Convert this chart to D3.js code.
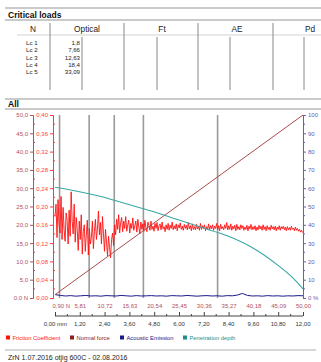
<!DOCTYPE html>
<html>
<head>
<meta charset="utf-8">
<script src="https://cdn.jsdelivr.net/npm/d3@7"></script>
<style>
  body { margin: 0; background: #fff; }
  svg { display: block; font-family: "Liberation Sans", Arial, sans-serif; }
</style>
</head>
<body>
<div id="chart"></div>
<script>
// ---- data ----
const tableColumns = ["N", "Optical", "Ft", "AE", "Pd"];
const lcLabels = ["Lc 1", "Lc 2", "Lc 3", "Lc 4", "Lc 5"];
const lcOptical = ["1,8", "7,66", "12,63", "18,4", "33,09"];
const lcPositions = [1.8, 7.66, 12.63, 18.4, 33.09];

const nTicks = [0.90, 5.81, 10.72, 15.63, 20.54, 25.45, 30.36, 35.27, 40.18, 45.09, 50.00];
const mmTicks = [0, 1.2, 2.4, 3.6, 4.8, 6.0, 7.2, 8.4, 9.6, 10.8, 12.0];
const forceTicks = [0, 5, 10, 15, 20, 25, 30, 35, 40, 45, 50];
const frictionTicks = [0, 0.04, 0.08, 0.12, 0.16, 0.20, 0.24, 0.28, 0.32, 0.36, 0.40];
const percentTicks = [0, 10, 20, 30, 40, 50, 60, 70, 80, 90, 100];

const normalForce = [[0.9, 0.9], [50, 50]];

// penetration depth (%), by normal force (N)
const penetration = [
  [0.9, 60.5], [5, 58.5], [10, 55.5], [15, 51.5], [20, 47.5], [25, 43],
  [30, 38.5], [35, 34], [40, 27.5], [45, 18], [48, 11], [50, 5]
];

// friction coefficient, sampled every 0.2 N from 0.9 N
const frictionStart = 0.9, frictionStep = 0.2;
const friction = [
  0.178, 0.205, 0.132, 0.215, 0.160, 0.142, 0.222, 0.128, 0.198, 0.150,
  0.124, 0.186, 0.170, 0.118, 0.192, 0.135, 0.232, 0.168, 0.140, 0.205,
  0.122, 0.176, 0.150, 0.104, 0.168, 0.128, 0.182, 0.096, 0.145, 0.160,
  0.102, 0.138, 0.170, 0.094, 0.152, 0.118, 0.132, 0.168, 0.108, 0.145,
  0.172, 0.128, 0.150, 0.190, 0.138, 0.165, 0.118, 0.178, 0.140, 0.102,
  0.150, 0.122, 0.092, 0.135, 0.110, 0.088, 0.128, 0.142, 0.115, 0.160,
  0.138, 0.172, 0.150, 0.182, 0.142, 0.165, 0.176, 0.145, 0.168, 0.152,
  0.178, 0.146, 0.160, 0.170, 0.142, 0.163, 0.152, 0.175, 0.148, 0.158,
  0.168, 0.144, 0.172, 0.155, 0.140, 0.166, 0.150, 0.162, 0.146, 0.170,
  0.153, 0.145, 0.166, 0.158, 0.148, 0.168, 0.150, 0.157, 0.146, 0.163,
  0.152, 0.165, 0.147, 0.158, 0.162, 0.149, 0.166, 0.151, 0.156, 0.145,
  0.160, 0.150, 0.163, 0.148, 0.159, 0.152, 0.166, 0.149, 0.158, 0.151,
  0.162, 0.147, 0.160, 0.153, 0.164, 0.150, 0.157, 0.148, 0.161, 0.152,
  0.159, 0.149, 0.165, 0.151, 0.158, 0.147, 0.162, 0.150, 0.156, 0.149,
  0.161, 0.151, 0.157, 0.148, 0.163, 0.150, 0.158, 0.152, 0.160, 0.147,
  0.156, 0.150, 0.162, 0.149, 0.158, 0.151, 0.160, 0.148, 0.157, 0.152,
  0.163, 0.150, 0.158, 0.147, 0.161, 0.151, 0.156, 0.149, 0.160, 0.152,
  0.165, 0.149, 0.158, 0.150, 0.162, 0.148, 0.157, 0.151, 0.159, 0.147,
  0.161, 0.150, 0.156, 0.149, 0.160, 0.152, 0.158, 0.148, 0.155, 0.150,
  0.159, 0.147, 0.157, 0.151, 0.161, 0.149, 0.156, 0.150, 0.158, 0.147,
  0.155, 0.149, 0.159, 0.151, 0.157, 0.148, 0.160, 0.150, 0.156, 0.147,
  0.158, 0.150, 0.155, 0.148, 0.159, 0.151, 0.156, 0.149, 0.157, 0.147,
  0.155, 0.150, 0.158, 0.148, 0.156, 0.151, 0.157, 0.149, 0.155, 0.147,
  0.156, 0.149, 0.154, 0.148, 0.157, 0.150, 0.153, 0.147, 0.155, 0.148,
  0.152, 0.146, 0.150, 0.144, 0.148, 0.143
];

// acoustic emission (%), one value per N from 1 N
const acoustic = [
  1.8, 1.4, 1.1, 1.3, 1.0, 1.2, 1.4, 1.1, 1.2, 1.0,
  1.3, 1.2, 1.1, 1.4, 1.2, 1.0, 1.3, 1.1, 1.2, 1.3,
  1.1, 1.2, 1.0, 1.3, 1.2, 1.1, 1.4, 1.2, 1.0, 1.2,
  1.3, 1.1, 1.2, 1.0, 1.3, 1.2, 1.6, 2.5, 1.4, 1.1,
  1.2, 1.0, 1.3, 1.1, 1.2, 1.0, 1.2, 1.1, 1.3, 1.2
];

const legendItems = [
  { name: "Friction Coefficient", color: "#ff1010", x: 6 },
  { name: "Normal force", color: "#8a2020", x: 70 },
  { name: "Acoustic Emission", color: "#1a1a8c", x: 120 },
  { name: "Penetration depth", color: "#1a9090", x: 183 }
];
const footerText = "ZrN 1.07.2016 otjig 600C - 02.08.2016";

// ---- layout ----
const W = 321, H = 362;
const plot = { left: 55, right: 303, top: 115, bottom: 298 };
const forceColor = "#b0505c", fricColor = "#ff3a3a", pctColor = "#6262b4";

const svg = d3.select("#chart").append("svg")
  .attr("width", W).attr("height", H);

const sepLine = (y, x0 = 5, x1 = W) =>
  svg.append("line").attr("x1", x0).attr("x2", x1).attr("y1", y).attr("y2", y)
    .attr("stroke", "#b8b8b8").attr("stroke-width", 1.6);

// ---- critical loads table ----
sepLine(8);
svg.append("text").attr("x", 8).attr("y", 17.5).attr("font-size", 8.5)
  .attr("font-weight", "bold").attr("fill", "#111").text("Critical loads");
sepLine(20);

const colCenters = [33, 87, 162, 237, 310];
const fullLines = [50, 124, 198, 273];
const shortLines = [82, 157, 230, 304];

svg.append("g").selectAll("text").data(tableColumns).join("text")
  .attr("x", (d, i) => colCenters[i]).attr("y", 32)
  .attr("text-anchor", "middle").attr("font-size", 8.3).attr("fill", "#222")
  .text(d => d);

svg.append("line").attr("x1", 17).attr("x2", W).attr("y1", 35).attr("y2", 35)
  .attr("stroke", "#c8c8c8").attr("stroke-width", 0.8);

svg.append("g").selectAll("line").data(fullLines).join("line")
  .attr("x1", d => d).attr("x2", d => d).attr("y1", 23).attr("y2", 90)
  .attr("stroke", "#888").attr("stroke-width", 1);
svg.append("g").selectAll("line").data(shortLines).join("line")
  .attr("x1", d => d).attr("x2", d => d).attr("y1", 37).attr("y2", 90)
  .attr("stroke", "#888").attr("stroke-width", 1);

const rowY = i => 45.3 + i * 7.1;
svg.append("g").selectAll("text").data(lcLabels).join("text")
  .attr("x", 26).attr("y", (d, i) => rowY(i))
  .attr("font-size", 6.1).attr("fill", "#222").text(d => d);
svg.append("g").selectAll("text").data(lcOptical).join("text")
  .attr("x", 80).attr("y", (d, i) => rowY(i)).attr("text-anchor", "end")
  .attr("font-size", 6.1).attr("fill", "#222").text(d => d);

// ---- "All" section ----
sepLine(99);
svg.append("text").attr("x", 8).attr("y", 107).attr("font-size", 8.5)
  .attr("font-weight", "bold").attr("fill", "#111").text("All");
sepLine(109);

// ---- scales ----
const xN = d3.scaleLinear().domain([0.9, 50]).range([plot.left, plot.right]);
const xMM = d3.scaleLinear().domain([0, 12]).range([plot.left, plot.right]);
const yF = d3.scaleLinear().domain([0, 50]).range([plot.bottom, plot.top]);
const yMu = d3.scaleLinear().domain([0, 0.4]).range([plot.bottom, plot.top]);
const yPct = d3.scaleLinear().domain([0, 100]).range([plot.bottom, plot.top]);

const fmt = (d, n) => d.toFixed(n).replace(".", ",");

// outer left axis: normal force
const axF = svg.append("g").attr("transform", "translate(33,0)")
  .call(d3.axisLeft(yF).tickValues(forceTicks).tickSize(3).tickPadding(2)
    .tickFormat(d => d === 0 ? "0,0 N" : fmt(d, 1)));
axF.append("g").selectAll("line").data(forceTicks.slice(0, -1)).join("line")
  .attr("x1", 0).attr("x2", 2).attr("y1", d => yF(d + 2.5)).attr("y2", d => yF(d + 2.5))
  .attr("stroke", forceColor);

// inner left axis: friction coefficient
const axMu = svg.append("g").attr("transform", "translate(53,0)")
  .call(d3.axisLeft(yMu).tickValues(frictionTicks).tickSize(3).tickPadding(2)
    .tickFormat(d => fmt(d, 2)));
axMu.append("g").selectAll("line").data(frictionTicks.slice(0, -1)).join("line")
  .attr("x1", 0).attr("x2", 2).attr("y1", d => yMu(d + 0.02)).attr("y2", d => yMu(d + 0.02))
  .attr("stroke", fricColor);

// right axis: percent
const axP = svg.append("g").attr("transform", `translate(${plot.right},0)`)
  .call(d3.axisRight(yPct).tickValues(percentTicks).tickSize(3).tickPadding(2)
    .tickFormat(d => d === 0 ? "0 %" : d));
axP.append("g").selectAll("line").data(percentTicks.slice(0, -1)).join("line")
  .attr("x1", 0).attr("x2", 2).attr("y1", d => yPct(d + 5)).attr("y2", d => yPct(d + 5))
  .attr("stroke", pctColor);

[[axF, forceColor], [axMu, fricColor], [axP, pctColor]].forEach(([g, c]) => {
  g.select(".domain").attr("stroke", c);
  g.selectAll(".tick line").attr("stroke", c);
  g.selectAll("text").attr("fill", c).attr("font-size", 6)
    .attr("font-family", "Liberation Sans, Arial, sans-serif");
});

// bottom N labels
const axN = svg.append("g").attr("transform", `translate(0,${plot.bottom})`)
  .call(d3.axisBottom(xN).tickValues(nTicks).tickSize(0).tickPadding(6)
    .tickFormat(d => fmt(d, 2)));
axN.select(".domain").remove();
axN.selectAll("text").attr("fill", forceColor).attr("font-size", 6)
  .attr("font-family", "Liberation Sans, Arial, sans-serif");
axN.selectAll(".tick").filter((d, i) => i === 0).select("text")
  .attr("text-anchor", "start").attr("dx", -3).text("0,90 N");

// mm axis
const axMM = svg.append("g").attr("transform", "translate(0,316)")
  .call(d3.axisTop(xMM).tickValues(mmTicks).tickSize(4).tickFormat(""));
axMM.append("g").selectAll("line").data(mmTicks.slice(0, -1)).join("line")
  .attr("x1", d => xMM(d + 0.6)).attr("x2", d => xMM(d + 0.6))
  .attr("y1", 0).attr("y2", -2).attr("stroke", "#444");
axMM.select(".domain").attr("stroke", "#444").attr("d", `M${plot.left},0H${plot.right}`);
axMM.selectAll(".tick line").attr("stroke", "#444");
svg.append("g").selectAll("text").data(mmTicks).join("text")
  .attr("x", d => xMM(d)).attr("y", 326)
  .attr("text-anchor", (d, i) => i === 0 ? "end" : "middle")
  .attr("dx", (d, i) => i === 0 ? 12 : 0)
  .attr("font-size", 6).attr("fill", "#333")
  .text(d => d === 0 ? "0,00 mm" : fmt(d, 2));

// ---- series ----
const g = svg.append("g");

// critical load markers
g.selectAll(".lc").data(lcPositions).join("line").attr("class", "lc")
  .attr("x1", d => xN(d)).attr("x2", d => xN(d))
  .attr("y1", plot.top).attr("y2", plot.bottom)
  .attr("stroke", "#9a9a9a").attr("stroke-width", 1.6);

// friction coefficient
g.append("path")
  .datum(friction)
  .attr("fill", "none").attr("stroke", "#ff1010").attr("stroke-width", 0.9)
  .attr("stroke-linejoin", "round")
  .attr("d", d3.line()
    .x((d, i) => xN(frictionStart + i * frictionStep))
    .y(d => yMu(d)));

// normal force
g.append("path").datum(normalForce)
  .attr("fill", "none").attr("stroke", "#a84c4c").attr("stroke-width", 1)
  .attr("d", d3.line().x(d => xN(d[0])).y(d => yF(d[1])));

// penetration depth
g.append("path").datum(penetration)
  .attr("fill", "none").attr("stroke", "#3aa6a6").attr("stroke-width", 1.1)
  .attr("d", d3.line().curve(d3.curveMonotoneX).x(d => xN(d[0])).y(d => yPct(d[1])));

// acoustic emission
g.append("path").datum(acoustic)
  .attr("fill", "none").attr("stroke", "#1a1a8c").attr("stroke-width", 1)
  .attr("d", d3.line().x((d, i) => xN(Math.min(50, 1 + i))).y(d => yPct(d)));

// ---- legend ----
const lg = svg.append("g").attr("transform", "translate(0,338)");
const li = lg.selectAll("g").data(legendItems).join("g")
  .attr("transform", d => `translate(${d.x},0)`);
li.append("rect").attr("x", 0).attr("y", -2.5).attr("width", 4).attr("height", 4)
  .attr("fill", d => d.color);
li.append("text").attr("x", 6.5).attr("y", 1.8).attr("font-size", 5.8)
  .attr("fill", d => d.color).text(d => d.name);

// ---- footer ----
sepLine(350, 5, 316).attr("stroke", "#999").attr("stroke-width", 0.8);
svg.append("text").attr("x", 8).attr("y", 360).attr("font-size", 7)
  .attr("fill", "#222").text(footerText);
</script>
</body>
</html>
